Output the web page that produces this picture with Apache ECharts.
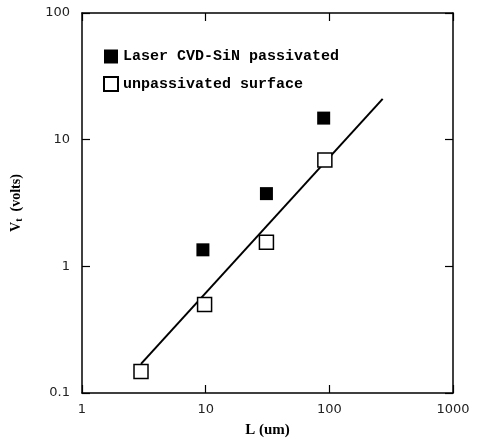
<!DOCTYPE html>
<html>
<head>
<meta charset="utf-8">
<script src="https://cdn.jsdelivr.net/npm/echarts@6/dist/echarts.min.js"></script>
<style>
  html, body { margin: 0; padding: 0; background: #fff; }
  #chart { width: 480px; height: 445px; }
</style>
</head>
<body>
<div id="chart"></div>
<script>
// channel length L (um) and threshold voltage Vt (volts)
const passivatedL = [9.5, 31, 90];
const passivatedVt = [1.35, 3.75, 14.8];
const unpassivatedL = [3, 9.8, 31, 92];
const unpassivatedVt = [0.148, 0.5, 1.55, 6.9];
const fitL = [3, 270];
const fitVt = [0.17, 21];

const pairs = (xs, ys) => xs.map((x, i) => [x, ys[i]]);

const chart = echarts.init(document.getElementById('chart'), null, { renderer: 'canvas' });

const axisLine = { show: true, lineStyle: { color: '#000', width: 1.5 } };
const tick = { show: true, inside: true, length: 8, lineStyle: { color: '#000', width: 1.2 } };
const labelStyle = { color: '#222', fontFamily: 'DejaVu Sans', fontSize: 13 };
const fmt = (v) => (v < 1 ? v.toFixed(1) : String(Math.round(v)));

chart.setOption({
  animation: false,
  grid: { left: 82, right: 27, top: 13, bottom: 52 },
  legend: {
    orient: 'vertical',
    left: 98,
    top: 44,
    itemGap: 12,
    itemWidth: 14,
    itemHeight: 14,
    data: ['Laser CVD-SiN passivated', 'unpassivated surface'],
    textStyle: { color: '#000', fontFamily: 'Liberation Mono', fontWeight: 'bold', fontSize: 15 },
  },
  xAxis: [
    {
      type: 'log', logBase: 10, min: 1, max: 1000, position: 'bottom',
      name: 'L (um)', nameLocation: 'middle', nameGap: 30,
      nameTextStyle: { color: '#000', fontFamily: 'Liberation Serif', fontWeight: 'bold', fontSize: 15 },
      axisLine, axisTick: tick, splitLine: { show: false },
      axisLabel: { ...labelStyle, margin: 10, formatter: fmt },
    },
    {
      type: 'log', logBase: 10, min: 1, max: 1000, position: 'top',
      axisLine, axisTick: tick, splitLine: { show: false }, axisLabel: { show: false },
    },
  ],
  yAxis: [
    {
      type: 'log', logBase: 10, min: 0.1, max: 100, position: 'left',
      name: '{v|V}{s|t}{v|  (volts)}', nameLocation: 'middle', nameGap: 58, nameRotate: 90,
      nameTextStyle: {
        color: '#000',
        rich: {
          v: { fontFamily: 'Liberation Serif', fontWeight: 'bold', fontSize: 14, color: '#000' },
          s: { fontFamily: 'Liberation Serif', fontWeight: 'bold', fontSize: 10, color: '#000', verticalAlign: 'bottom', padding: [6, 0, 0, 0] },
        },
      },
      axisLine, axisTick: tick, splitLine: { show: false },
      axisLabel: { ...labelStyle, margin: 12, formatter: fmt },
    },
    {
      type: 'log', logBase: 10, min: 0.1, max: 100, position: 'right',
      axisLine, axisTick: tick, splitLine: { show: false }, axisLabel: { show: false },
    },
  ],
  series: [
    {
      type: 'line',
      data: pairs(fitL, fitVt),
      symbol: 'none',
      lineStyle: { color: '#000', width: 2 },
      silent: true,
      z: 1,
    },
    {
      name: 'Laser CVD-SiN passivated',
      type: 'scatter',
      data: pairs(passivatedL, passivatedVt),
      symbol: 'rect',
      symbolSize: 13,
      itemStyle: { color: '#000', opacity: 1 },
      z: 3,
    },
    {
      name: 'unpassivated surface',
      type: 'scatter',
      data: pairs(unpassivatedL, unpassivatedVt),
      symbol: 'rect',
      symbolSize: 14,
      itemStyle: { color: '#fff', borderColor: '#000', borderWidth: 1.5, opacity: 1 },
      z: 3,
    },
  ],
});
</script>
</body>
</html>
